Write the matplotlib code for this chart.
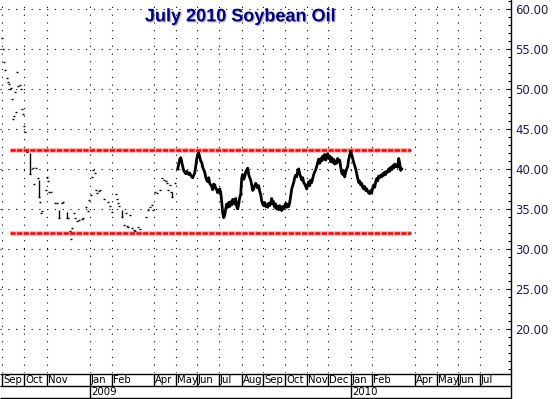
import matplotlib; matplotlib.use('Agg')
import matplotlib.pyplot as plt, numpy as np
import matplotlib.patheffects as pe
from matplotlib.ticker import MultipleLocator

# x axis unit = business days since 1 Sep 2008
ORIGIN = np.datetime64('2008-09-01')

month_starts = ['2008-09-01', '2008-10-01', '2008-11-01', '2009-01-01', '2009-02-01',
                '2009-04-01', '2009-05-01', '2009-06-01', '2009-07-01', '2009-08-01',
                '2009-09-01', '2009-10-01', '2009-11-01', '2009-12-01', '2010-01-01',
                '2010-02-01', '2010-04-01', '2010-05-01', '2010-06-01', '2010-07-01']
month_labels = ['Sep', 'Oct', 'Nov', 'Jan', 'Feb', 'Apr', 'May', 'Jun', 'Jul', 'Aug',
                'Sep', 'Oct', 'Nov', 'Dec', 'Jan', 'Feb', 'Apr', 'May', 'Jun', 'Jul']
year_starts = ['2009-01-01', '2010-01-01']
year_labels = ['2009', '2010']

y_ticks = [20, 25, 30, 35, 40, 45, 50, 55, 60]

# resistance / support levels and their span (business days)
levels = [42.4, 32.0]
level_span = [8.3, 409.3]

# early, thinly traded days: single closes
sp_day = [0, 1, 2, 3, 5, 6, 7, 8, 9, 10, 11, 12, 13, 14, 15, 16, 18, 19, 20, 21, 22, 23, 25,
          28, 31, 32, 34, 36, 37, 38, 39, 40, 44, 45, 46, 47, 49, 53, 55, 57, 60, 61, 65, 66,
          68, 69, 70, 72, 73, 75, 77, 80, 81, 84, 86, 87, 89, 90, 91, 93, 94, 95, 97, 98,
          102, 106, 108, 110, 114, 115, 116, 117, 120, 122, 124, 125, 126, 128, 130, 132,
          133, 136, 138, 144, 146, 148, 150, 151, 153, 155, 158, 160, 162, 164, 165, 166,
          168, 169, 170, 173]
sp_close = [56.4, 55.0, 53.4, 52.4, 51.4, 50.9, 50.6, 50.0, 50.1, 48.75, 46.2, 46.6, 49.6,
            47.1, 52.1, 50.4, 50.5, 50.0, 47.5, 46.9, 45.4, 44.6, 42.1,
            39.3, 40.1, 38.1, 40.1, 38.9, 36.5, 35.9, 34.5, 34.75, 37.4, 39.0, 38.5, 37.1,
            37.1, 35.75, 35.75, 33.9, 35.75, 35.9, 33.9, 33.9,
            32.25, 31.25, 32.6, 34.5, 33.9, 33.5, 33.6, 33.75, 33.9, 35.25, 34.75, 36.1,
            36.75, 39.0, 39.9, 39.5, 37.4, 37.0, 37.3, 37.4,
            36.25, 35.9, 35.4, 34.6, 36.9, 36.25, 35.75, 35.4, 34.0, 33.0, 34.5, 32.9,
            32.75, 34.3, 32.6, 32.4,
            32.25, 32.75, 32.5, 34.0, 34.9, 35.25, 35.5, 34.9, 37.1, 37.0, 37.4, 38.9,
            38.6, 38.5, 38.25, 37.4,
            38.0, 37.1, 36.5, 38.25]
# early days with a visible high-low range
bar_day = [28, 37, 57, 65, 120, 170]
bar_hi = [42.0, 38.6, 34.9, 34.6, 34.9, 37.1]
bar_lo = [39.3, 36.5, 33.9, 33.9, 34.0, 36.5]

# daily closes once the contract trades every day
dense_first_day = 176
dense_close = [
    40.0, 40.6, 41.2, 41.4, 40.9, 40.3, 39.8,
    39.6, 39.4, 39.7, 39.5, 39.3, 39.5, 39.2, 39.0, 38.9, 39.2, 39.5, 40.3,
    41.2, 41.8, 42.0, 41.5, 41.0, 40.8, 40.2,
    39.9, 39.6, 39.0, 38.6, 38.4, 38.9, 38.2,
    38.0, 37.8, 37.4, 38.1, 38.0, 37.6,
    37.4, 37.0, 37.3, 37.5, 37.1,
    35.9, 34.5, 33.9, 34.2, 35.0,
    35.6, 35.2, 35.8, 35.3, 35.9, 35.5,
    36.2, 36.0, 35.6, 36.3,
    35.3, 35.0, 35.6,
    36.4, 36.8,
    38.8, 39.3, 38.7, 39.0, 39.6, 39.9,
    40.1, 39.3, 38.9, 38.6,
    38.0, 37.3, 37.5, 37.9, 38.2,
    38.0, 37.6, 37.9, 37.2, 36.8,
    36.0, 35.6, 35.4, 35.8, 35.3,
    35.5, 35.2, 35.7, 35.4, 35.8,
    36.3, 35.6, 35.9, 35.2, 35.6, 35.0,
    35.3, 34.9, 35.4, 35.1, 34.8, 35.3, 35.0,
    35.4, 35.7, 35.2, 35.6, 35.3, 35.8,
    36.6, 37.5, 37.9, 38.3, 38.9,
    39.2, 39.0, 39.8, 40.0, 39.4,
    39.0, 38.6, 38.9, 38.3, 38.1, 37.8, 37.5,
    38.0, 38.4, 37.9, 38.6, 38.3, 38.8,
    39.3, 39.6, 39.9, 40.3,
    40.8, 41.2, 40.7, 41.3, 41.0,
    41.6, 41.2, 41.8, 41.1, 41.5,
    41.9, 41.3, 41.6, 40.9, 41.4,
    40.8, 41.2, 40.6, 41.0, 40.7,
    41.3, 40.9, 41.1,
    40.2, 39.5, 39.3, 39.8, 39.0,
    39.6, 40.0, 40.3,
    41.2, 41.7, 42.2, 41.8, 41.3,
    40.8, 40.4, 40.0, 39.4,
    38.8, 38.3, 38.5,
    38.0, 38.2, 37.7,
    37.5, 37.8, 37.3, 37.5,
    37.2, 37.0, 36.9, 37.3, 37.0,
    37.6, 38.0, 37.7,
    38.4, 38.8, 38.5, 39.1, 38.9, 39.2,
    39.0, 39.4, 39.2, 39.6, 39.3, 39.7,
    39.6, 40.0, 39.7, 40.2, 39.9,
    40.4, 40.1, 40.6, 40.3, 40.5,
    40.2, 41.3, 40.7, 39.8, 40.0,
]

W, H = 552, 399
XMIN, XMAX = -1.7, 509.3
fig = plt.figure(figsize=(W / 100, H / 100), dpi=100)
ax = fig.add_axes([0, 26 / H, 511 / W, 373 / H])
band = fig.add_axes([0, 0, 511 / W, 26 / H])

mpos = np.busday_count(ORIGIN, np.array(month_starts, dtype='datetime64[D]'))
ypos = np.busday_count(ORIGIN, np.array(year_starts, dtype='datetime64[D]'))

dot = (0, (1, 6))
for v in y_ticks:
    ax.axhline(v, color='k', lw=0.8, ls=dot, zorder=1)
for m in mpos:
    ax.axvline(m, color='k', lw=0.8, ls=dot, zorder=1)

# support / resistance
ax.hlines(levels, *level_span, color='#ffb4b4', lw=3.4, zorder=2)
ax.hlines(levels, *level_span, color='#ff0000', lw=1.8,
          linestyles=[(0, (2.1, 0.55))], zorder=3)

# price
ax.hlines(sp_close, np.array(sp_day) - 1.2, np.array(sp_day) + 1.2, color='k', lw=1, zorder=4)
ax.vlines(bar_day, bar_lo, bar_hi, color='k', lw=1, zorder=4)
dense_day = dense_first_day + np.arange(len(dense_close))
ax.plot(dense_day, dense_close, color='k', lw=2.0, zorder=4)

ax.set_xlim(XMIN, XMAX)
ax.set_ylim(14.5, 61.1)
ax.set_xticks([])
for s in ['top', 'left', 'bottom']:
    ax.spines[s].set_visible(False)
ax.spines['right'].set_linewidth(1)
ax.yaxis.tick_right()
ax.set_yticks(y_ticks)
ax.set_yticklabels([f'{v:.2f}' for v in y_ticks])
ax.yaxis.set_minor_locator(MultipleLocator(1))
ax.tick_params(axis='y', which='major', direction='in', length=3, width=0.8, pad=3,
               labelsize=8.5, labelcolor='#1c1c50')
ax.tick_params(axis='y', which='minor', direction='in', length=2.2, width=0.8)

ax.text(0.47, 0.955, 'July 2010 Soybean Oil', transform=ax.transAxes,
        ha='center', va='center', fontsize=13, fontweight='bold', color='#00008b',
        family='Liberation Sans',
        path_effects=[pe.withSimplePatchShadow(offset=(0.8, -0.8), shadow_rgbFace='#9a9aa8',
                                               alpha=0.8)])

# date band under the chart
band.set_xlim(XMIN, XMAX)
band.set_ylim(26, 0)
band.axis('off')
kw = dict(color='k', lw=1, clip_on=False)
band.hlines([0.5, 13, 25], XMIN, XMAX, **kw)
band.vlines(XMAX, 0, 26, **kw)
band.vlines(mpos, 0.5, 13, **kw)
band.vlines(ypos, 13, 25, **kw)
for m, lab in zip(mpos, month_labels):
    band.text(m + 1.2, 7, lab, ha='left', va='center', fontsize=7.3)
for yv, lab in zip(ypos, year_labels):
    band.text(yv + 1.2, 19.3, lab, ha='left', va='center', fontsize=7.3)

fig.savefig('out.png', dpi=100)
plt.close(fig)
